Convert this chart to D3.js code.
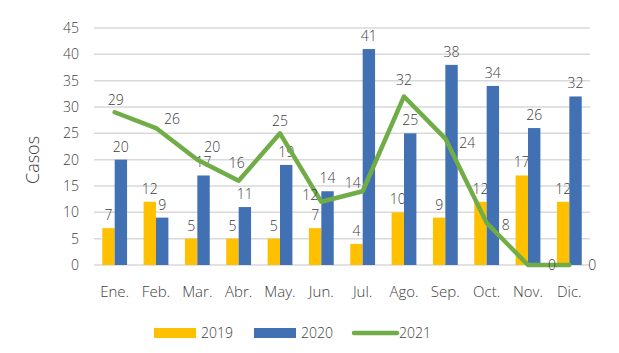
<!DOCTYPE html>
<html>
<head>
<meta charset="utf-8">
<script src="https://cdn.jsdelivr.net/npm/d3@7"></script>
<style>
  body { margin: 0; background: #fff; }
  svg text { font-family: "Open Sans", "Segoe UI", sans-serif; font-weight: 300; fill: #404040; }
</style>
</head>
<body>
<div id="chart"></div>
<script>
// month categories and the three series
const months = ["Ene.", "Feb.", "Mar.", "Abr.", "May.", "Jun.", "Jul.", "Ago.", "Sep.", "Oct.", "Nov.", "Dic."];
const casos2019 = [7, 12, 5, 5, 5, 7, 4, 10, 9, 12, 17, 12];
const casos2020 = [20, 9, 17, 11, 19, 14, 41, 25, 38, 34, 26, 32];
const casos2021 = [29, 26, 20, 16, 25, 12, 14, 32, 24, 8, 0, 0];
const yTicks = [0, 5, 10, 15, 20, 25, 30, 35, 40, 45];

// where excel dropped each 2021 label, relative to its point
const lineLabelNudge = [[1, -12], [16, -9], [15, -13], [-2, -18], [0, -12], [-11, -7],
                        [-10, -8], [0, -16], [22, 4], [19, 2], [24, 0], [23, 0]];

let width = 619, height = 353;
let plot = { left: 94, right: 590, top: 28, bottom: 265 };

let svg = d3.select("#chart").append("svg")
  .attr("width", width)
  .attr("height", height);

let x = d3.scaleBand().domain(months).range([plot.left, plot.right])
  .paddingInner(0.4).paddingOuter(0.2);
let x1 = d3.scaleBand().domain(["2019", "2020"]).range([0, x.bandwidth()]);
let y = d3.scaleLinear().domain([0, 45]).range([plot.bottom, plot.top]);

// gridlines
svg.append("g").selectAll("line")
  .data(yTicks)
  .enter().append("line")
    .attr("x1", plot.left).attr("x2", plot.right)
    .attr("y1", d => y(d)).attr("y2", d => y(d))
    .attr("stroke", "#d9d9d9")
    .attr("stroke-width", 1.5);

// y tick labels
svg.append("g").selectAll("text")
  .data(yTicks)
  .enter().append("text")
    .attr("x", 79)
    .attr("y", d => y(d))
    .attr("dy", "0.35em")
    .attr("text-anchor", "end")
    .style("font-size", "14px")
    .text(d => d);

// month labels
svg.append("g").selectAll("text")
  .data(months)
  .enter().append("text")
    .attr("x", d => x(d) + x.bandwidth() / 2)
    .attr("y", 292)
    .attr("dy", "0.35em")
    .attr("text-anchor", "middle")
    .style("font-size", "15px")
    .text(d => d);

// y axis title
svg.append("text")
  .attr("transform", "translate(33,160) rotate(-90)")
  .attr("text-anchor", "middle")
  .attr("dy", "0.35em")
  .style("font-size", "18px")
  .text("Casos");

let barSeries = [
  { key: "2019", values: casos2019, color: "#ffc000" },
  { key: "2020", values: casos2020, color: "#4170b3" }
];

barSeries.forEach(function(s) {
  let g = svg.append("g");
  g.selectAll("rect")
    .data(s.values)
    .enter().append("rect")
      .attr("x", (d, i) => x(months[i]) + x1(s.key))
      .attr("y", d => y(d))
      .attr("width", x1.bandwidth())
      .attr("height", d => y(0) - y(d))
      .attr("fill", s.color);
  g.selectAll("text")
    .data(s.values)
    .enter().append("text")
      .attr("x", (d, i) => x(months[i]) + x1(s.key) + x1.bandwidth() / 2)
      .attr("y", d => y(d) - 8)
      .attr("text-anchor", "middle")
      .style("font-size", "14px")
      .text(d => d);
});

// 2021 line
let line = d3.line()
  .x((d, i) => x(months[i]) + x.bandwidth() / 2)
  .y(d => y(d));

svg.append("path")
  .datum(casos2021)
  .attr("d", line)
  .attr("fill", "none")
  .attr("stroke", "#70ad47")
  .attr("stroke-width", 4.5)
  .attr("stroke-linejoin", "round")
  .attr("stroke-linecap", "round");

svg.append("g").selectAll("text")
  .data(casos2021)
  .enter().append("text")
    .attr("x", (d, i) => x(months[i]) + x.bandwidth() / 2 + lineLabelNudge[i][0])
    .attr("y", (d, i) => y(d) + lineLabelNudge[i][1])
    .attr("dy", "0.35em")
    .attr("text-anchor", "middle")
    .style("font-size", "14px")
    .text(d => d);

// legend
let legend = svg.append("g");
let legendItems = [
  { key: "2019", color: "#ffc000", type: "bar", x: 154 },
  { key: "2020", color: "#4170b3", type: "bar", x: 254 },
  { key: "2021", color: "#70ad47", type: "line", x: 352 }
];
legendItems.forEach(function(d) {
  if (d.type == "bar") {
    legend.append("rect")
      .attr("x", d.x).attr("y", 328)
      .attr("width", 42).attr("height", 10)
      .attr("fill", d.color);
  } else {
    legend.append("line")
      .attr("x1", d.x + 2).attr("x2", d.x + 45)
      .attr("y1", 333).attr("y2", 333)
      .attr("stroke", d.color)
      .attr("stroke-width", 4.5)
      .attr("stroke-linecap", "round");
  }
  legend.append("text")
    .attr("x", d.x + 47)
    .attr("y", 333)
    .attr("dy", "0.35em")
    .style("font-size", "14px")
    .text(d.key);
});
</script>
</body>
</html>
